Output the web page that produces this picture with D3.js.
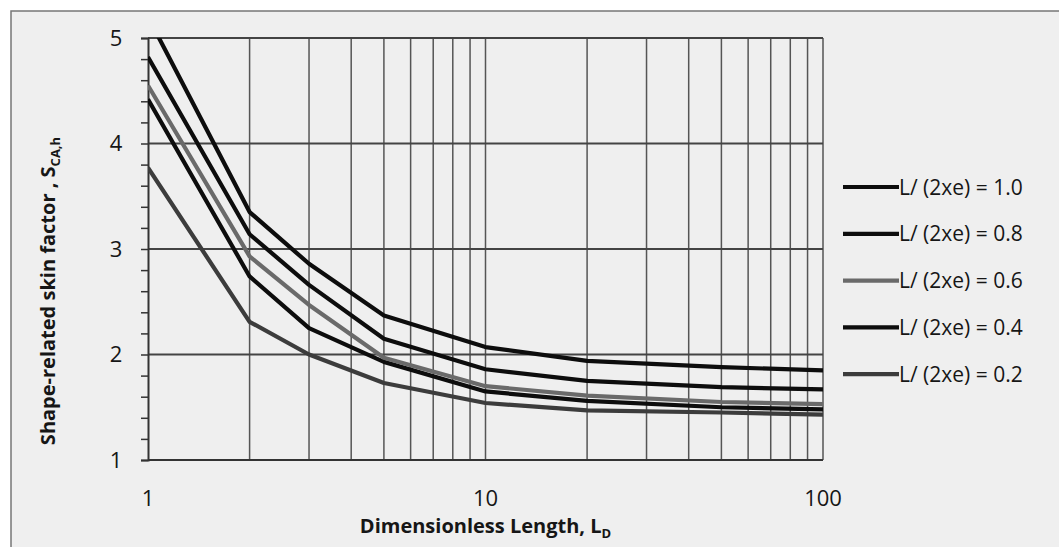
<!DOCTYPE html>
<html>
<head>
<meta charset="utf-8">
<script src="https://cdn.jsdelivr.net/npm/d3@7"></script>
<style>
  body { margin: 0; background: #fff; }
  svg { display: block; }
  text { font-family: "Open Sans", "Noto Sans", sans-serif; fill: #161616; }
</style>
</head>
<body>
<svg id="chart" width="1059" height="547"></svg>
<script>
// values
const LD = [1, 2, 3, 5, 10, 20, 50, 100];
const s10 = [5.20, 3.35, 2.86, 2.37, 2.07, 1.94, 1.88, 1.85];
const s08 = [4.82, 3.14, 2.66, 2.15, 1.86, 1.75, 1.69, 1.67];
const s06 = [4.55, 2.93, 2.47, 1.97, 1.70, 1.61, 1.55, 1.53];
const s04 = [4.42, 2.74, 2.25, 1.93, 1.65, 1.56, 1.50, 1.48];
const s02 = [3.77, 2.31, 2.00, 1.73, 1.54, 1.47, 1.45, 1.43];
const seriesNames = ["L/ (2xe) = 1.0", "L/ (2xe) = 0.8", "L/ (2xe) = 0.6", "L/ (2xe) = 0.4", "L/ (2xe) = 0.2"];
const seriesColors = ["#0d0d0d", "#0d0d0d", "#6a6a6a", "#0d0d0d", "#3c3c3c"];
const xTickLabels = [1, 10, 100];
const yTickLabels = [1, 2, 3, 4, 5];

const series = [s10, s08, s06, s04, s02].map((vals, i) => ({
  name: seriesNames[i],
  color: seriesColors[i],
  points: vals.map((v, j) => [LD[j], v])
}));

const svg = d3.select("#chart");

// page background + frame
svg.append("rect").attr("x", 11).attr("y", 11).attr("width", 1048).attr("height", 536)
  .attr("fill", "#efefef");
svg.append("path").attr("d", "M11,547 V11 H1059")
  .attr("fill", "none").attr("stroke", "#777").attr("stroke-width", 1.5);

const x = d3.scaleLog().domain([1, 100]).range([148, 823]);
const y = d3.scaleLinear().domain([1, 5]).range([460, 38]);

// vertical grid (all decade subdivisions)
const xGrid = [];
for (let d = 1; d < 100; d *= 10) {
  for (let k = 2; k <= 10; k++) xGrid.push(d * k);
}
svg.append("g").selectAll("line").data(xGrid).join("line")
  .attr("x1", d => x(d)).attr("x2", d => x(d))
  .attr("y1", y(1)).attr("y2", y(5))
  .attr("stroke", "#555").attr("stroke-width", 1.5);

// horizontal grid
svg.append("g").selectAll("line").data(yTickLabels.slice(1)).join("line")
  .attr("x1", x(1)).attr("x2", x(100))
  .attr("y1", d => y(d)).attr("y2", d => y(d))
  .attr("stroke", "#444").attr("stroke-width", 1.8);

// y axis with minor ticks
const yAxis = d3.axisLeft(y).tickValues(d3.range(1, 5.01, 0.2)).tickSize(7).tickFormat("");
const gy = svg.append("g").attr("transform", `translate(${x(1)},0)`).call(yAxis);
gy.select(".domain").attr("stroke", "#333").attr("stroke-width", 2);
gy.selectAll(".tick line").attr("stroke", "#333").attr("stroke-width", 1.5);

svg.append("g").selectAll("text").data(yTickLabels).join("text")
  .attr("x", 116).attr("y", d => y(d)).attr("dy", "0.36em")
  .attr("text-anchor", "middle").attr("font-size", 22)
  .text(d => d);

// x axis
svg.append("line").attr("x1", x(1)).attr("x2", x(100)).attr("y1", y(1)).attr("y2", y(1))
  .attr("stroke", "#333").attr("stroke-width", 2);
svg.append("g").selectAll("text").data(xTickLabels).join("text")
  .attr("x", d => x(d)).attr("y", 506)
  .attr("text-anchor", "middle").attr("font-size", 22)
  .text(d => d);

// axis titles
const xt = svg.append("text").attr("x", (x(1) + x(100)) / 2).attr("y", 533)
  .attr("text-anchor", "middle").attr("font-size", 20).attr("font-weight", "bold");
xt.append("tspan").text("Dimensionless Length, L");
xt.append("tspan").attr("font-size", 13).attr("dy", 5).text("D");

const yt = svg.append("text").attr("transform", "translate(55,291) rotate(-90)")
  .attr("text-anchor", "middle").attr("font-size", 20).attr("font-weight", "bold");
yt.append("tspan").text("Shape-related skin factor , S");
yt.append("tspan").attr("font-size", 13).attr("dy", 5).text("CA,h");

// curves
svg.append("clipPath").attr("id", "plot-clip").append("rect")
  .attr("x", x(1)).attr("y", y(5)).attr("width", x(100) - x(1)).attr("height", y(1) - y(5));

const line = d3.line().x(d => x(d[0])).y(d => y(d[1]));
svg.append("g").attr("clip-path", "url(#plot-clip)")
  .selectAll("path").data(series.slice().reverse()).join("path")
  .attr("d", d => line(d.points))
  .attr("fill", "none")
  .attr("stroke", d => d.color)
  .attr("stroke-width", 4.2)
  .attr("stroke-linejoin", "round");

// legend
const legend = svg.append("g").selectAll("g").data(series).join("g")
  .attr("transform", (d, i) => `translate(843,${187 + i * 46.8})`);
legend.append("line").attr("x1", 0).attr("x2", 56).attr("y1", 0).attr("y2", 0)
  .attr("stroke", d => d.color).attr("stroke-width", 4.2);
legend.append("text").attr("x", 56).attr("dy", "0.36em").attr("font-size", 21)
  .text(d => d.name);
</script>
</body>
</html>
